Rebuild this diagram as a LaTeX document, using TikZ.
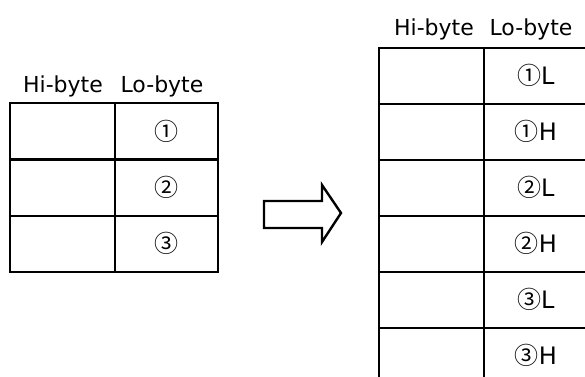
\documentclass[tikz,border=0pt]{standalone}
\usepackage{fontspec}
\setmainfont{DejaVu Sans}
\newfontfamily\cjk{Noto Sans CJK JP}
\newcommand{\circd}[1]{{\cjk\fontsize{18}{20}\selectfont #1}}
\begin{document}
\begin{tikzpicture}[x=0.75pt,y=-0.75pt,
  cell/.style={draw,line width=1.8pt,anchor=north west,inner sep=0pt},
  lrow/.style={cell,minimum height=42.2pt},
  rrow/.style={cell,minimum height=42pt},
  txt/.style={font=\fontsize{18}{20}\selectfont,inner sep=0pt},
  hdr/.style={font=\fontsize{16.5}{20}\selectfont,inner sep=0pt,anchor=base}]
\useasboundingbox (0,0) rectangle (585,376);
\clip (0,0) rectangle (585,376);
\fill[white] (0,0) rectangle (585,376);
% left table
\node[hdr] (lh) at (63,92) {Hi-byte};
\node[hdr] (ll) at (162,92) {Lo-byte};
\foreach \i/\t in {0/①,1/②,2/③}{
  \node[lrow,minimum width=78.75pt] (la\i) at (9,{102+56.267*\i}) {};
  \node[lrow,minimum width=77.25pt] (lb\i) at (114,{102+56.267*\i}) {};
  \node[txt] (lt\i) at (lb\i.center) {\circd{\t}};
}
% arrow
\draw[line width=1.8pt,line join=miter] (264,201) coordinate (a1) -- (322,201) -- (322,185) -- (341,213) -- (322,242) -- (322,228) -- (264,228) -- cycle;
% right table
\node[hdr] (rh) at (434,35) {Hi-byte};
\node[hdr] (rl) at (531,35) {Lo-byte};
\foreach \i/\c/\l in {0/①/L,1/①/H,2/②/L,3/②/H,4/③/L,5/③/H}{
  \node[rrow,minimum width=78.75pt] (ra\i) at (378,{46.5+56*\i}) {};
  \node[rrow,minimum width=77.5pt] (rb\i) at (483,{46.5+56*\i}) {};
  \node[txt] (rt\i) at (rb\i.center) {\circd{\c}\l};
}
\end{tikzpicture}
\end{document}
